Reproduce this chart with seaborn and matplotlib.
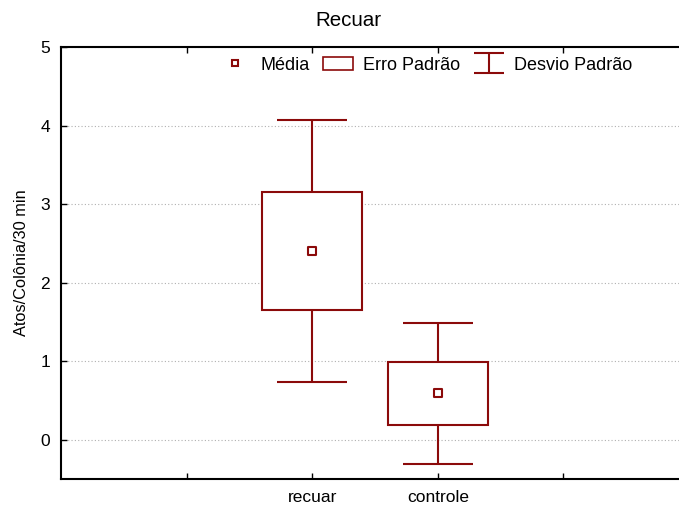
import pandas as pd
import matplotlib.pyplot as plt
import seaborn as sns
from matplotlib.patches import Rectangle
from matplotlib.lines import Line2D
from matplotlib.legend_handler import HandlerErrorbar

grupos = ["recuar", "controle"]
media = [2.40, 0.59]
erro_padrao = [0.75, 0.40]
desvio_padrao = [1.67, 0.90]

cor = "#8B0A0A"

sns.set_style("white")
plt.rcParams["font.family"] = ["Liberation Sans", "DejaVu Sans"]
plt.rcParams["text.color"] = "black"
plt.rcParams["axes.labelcolor"] = "black"

df = pd.DataFrame({"grupo": grupos, "media": media,
                   "ep": erro_padrao, "dp": desvio_padrao})
df["pos"] = range(len(df))

fig = plt.figure(figsize=(6.79, 5.14), dpi=100)
ax = fig.add_axes([61 / 679, 1 - 479 / 514, 1 - 61 / 679, (479 - 47) / 514])

# desvio padrao (bigodes)
ax.errorbar(df["pos"], df["media"], yerr=df["dp"], fmt="none",
            ecolor=cor, elinewidth=1.5, capsize=25, capthick=1.5, zorder=2)

# erro padrao (caixas)
for _, r in df.iterrows():
    ax.add_patch(Rectangle((r["pos"] - 0.4, r["media"] - r["ep"]), 0.8, 2 * r["ep"],
                           facecolor="white", edgecolor=cor, linewidth=1.5, zorder=3))

# media
sns.scatterplot(data=df, x="pos", y="media", marker="s", s=30, color="white",
                edgecolor=cor, linewidth=1.5, zorder=4, ax=ax, legend=False)

# handle so para a legenda (fora da area visivel)
eb_leg = ax.errorbar([-10], [0], yerr=[1], fmt="none", ecolor=cor,
                     elinewidth=1.5, capsize=10.8, capthick=1.5)

ax.set_xlim(-2, 2.92)
ax.set_ylim(-0.5, 5)
ax.set_xticks([-1, 0, 1, 2])
ax.set_xticklabels(["", "recuar", "controle", ""])
ax.set_yticks([0, 1, 2, 3, 4, 5])
ax.set_xlabel("")
ax.set_ylabel("Atos/Colônia/30 min", fontsize=11.8, labelpad=8)
ax.yaxis.grid(True, linestyle=(0, (1, 2)), color="#b0b0b0", linewidth=0.8)
ax.xaxis.grid(False)
ax.tick_params(axis="both", direction="in", length=4, width=1, labelsize=12.5,
               colors="black", pad=8)
ax.tick_params(axis="x", top=True, bottom=True)
ax.tick_params(axis="y", left=True)
for lado in ["left", "bottom", "top"]:
    ax.spines[lado].set_color("black")
    ax.spines[lado].set_linewidth(1.5)
ax.spines["right"].set_visible(False)

fig.text(348 / 679, 1 - 21 / 514, "Recuar", ha="center", va="center", fontsize=14.8)

h_media = Line2D([], [], marker="s", ls="none", markersize=5, markerfacecolor="white",
                 markeredgecolor=cor, markeredgewidth=1.5)
h_ep = Rectangle((0, 0), 1, 1, facecolor="white", edgecolor=cor, linewidth=1.2)
ax.legend([h_media, h_ep, eb_leg], ["Média", "Erro Padrão", "Desvio Padrão"],
          handler_map={eb_leg: HandlerErrorbar(yerr_size=0.55)},
          loc="center", bbox_to_anchor=((426 - 61) / 618, 1 - (65 - 47) / 432),
          bbox_transform=ax.transAxes, ncol=3, frameon=False, fontsize=13,
          handlelength=1.67, handletextpad=0.55, columnspacing=0.75)

fig.savefig("out.png", dpi=100)
